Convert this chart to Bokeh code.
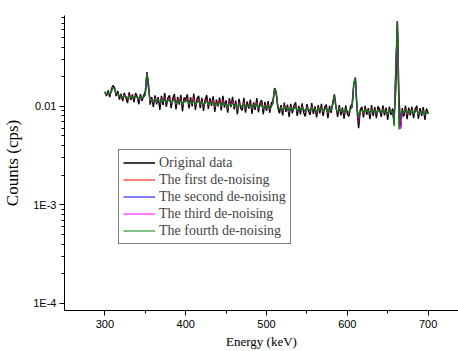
import numpy as np
from bokeh.plotting import figure
from bokeh.models import (Legend, LegendItem, FixedTicker, CustomJSTickFormatter,
                          Range1d)
from bokeh.embed import file_html
from bokeh.resources import INLINE

# Energy grid (keV): 300..700 in 2 keV steps
energy_start, energy_stop, energy_step = 300, 700, 2

# Count rates in units of 1e-4 cps
original = [
    141, 127, 145, 124, 149, 163, 154, 127, 143, 117,
    134, 113, 137, 122, 108, 139, 116, 132, 110, 136,
    126, 105, 133, 113, 129, 141, 223, 168, 104, 124,
    98, 129, 105, 124, 92, 128, 103, 136, 99, 122,
    129, 96, 121, 133, 93, 125, 104, 131, 89, 123,
    117, 132, 95, 124, 100, 135, 92, 119, 128, 96,
    122, 90, 116, 130, 94, 121, 101, 126, 88, 117,
    100, 123, 91, 128, 97, 115, 86, 121, 98, 125,
    93, 114, 83, 119, 96, 91, 122, 86, 112, 95,
    117, 84, 110, 92, 121, 87, 108, 116, 83, 111,
    90, 113, 86, 108, 114, 153, 140, 97, 85, 103,
    81, 109, 88, 104, 78, 106, 85, 102, 110, 80,
    101, 83, 107, 86, 79, 105, 89, 82, 108, 84,
    100, 77, 103, 85, 106, 80, 98, 104, 76, 101,
    86, 110, 132, 100, 78, 103, 81, 97, 75, 102,
    84, 79, 100, 106, 171, 196, 92, 60, 92, 99,
    77, 101, 82, 96, 74, 103, 80, 98, 76, 100,
    93, 78, 102, 81, 97, 73, 99, 82, 95, 78,
    150, 736, 118, 64, 96, 79, 102, 74, 97, 81,
    99, 76, 94, 101, 75, 96, 80, 98, 73, 95,
    85,
]

first_denoise = [
    137, 131, 139, 131, 143, 158, 151, 134, 136, 125,
    129, 121, 131, 126, 117, 131, 123, 127, 119, 129,
    123, 115, 127, 120, 125, 133, 219, 156, 113, 119,
    108, 122, 112, 118, 104, 120, 111, 125, 108, 116,
    120, 105, 115, 123, 104, 118, 111, 121, 100, 115,
    113, 122, 104, 116, 107, 123, 101, 113, 118, 104,
    114, 99, 110, 119, 102, 113, 107, 116, 97, 110,
    105, 114, 99, 117, 103, 108, 95, 112, 103, 114,
    99, 107, 92, 110, 102, 98, 112, 94, 105, 100,
    109, 93, 104, 98, 111, 94, 102, 108, 92, 104,
    96, 105, 93, 101, 110, 150, 136, 102, 92, 98,
    89, 102, 94, 98, 86, 100, 91, 96, 102, 88,
    96, 90, 100, 92, 87, 99, 94, 89, 101, 91,
    95, 85, 97, 91, 99, 87, 93, 98, 84, 95,
    91, 106, 130, 95, 86, 97, 88, 92, 83, 96,
    89, 86, 94, 99, 168, 193, 97, 70, 88, 93,
    84, 95, 88, 91, 82, 96, 86, 92, 83, 94,
    88, 85, 95, 87, 91, 81, 93, 87, 90, 72,
    220, 734, 90, 62, 91, 85, 95, 82, 91, 86,
    93, 83, 89, 94, 82, 90, 85, 92, 80, 89,
    84,
]

second_denoise = [
    137, 132, 138, 132, 142, 157, 151, 135, 134, 126,
    128, 122, 130, 126, 119, 129, 123, 126, 120, 128,
    123, 117, 126, 120, 124, 131, 218, 153, 113, 118,
    110, 120, 112, 117, 106, 119, 111, 122, 109, 115,
    118, 106, 114, 120, 105, 116, 110, 118, 102, 113,
    112, 119, 105, 114, 107, 119, 102, 111, 116, 104,
    112, 101, 109, 116, 103, 111, 106, 113, 99, 108,
    104, 111, 100, 113, 103, 107, 96, 110, 102, 111,
    99, 105, 94, 108, 101, 98, 109, 95, 104, 100,
    107, 94, 103, 98, 108, 95, 101, 106, 93, 102,
    96, 103, 94, 100, 109, 149, 135, 101, 92, 97,
    90, 100, 94, 97, 87, 99, 91, 95, 100, 89,
    95, 90, 99, 92, 88, 98, 94, 89, 99, 91,
    94, 86, 96, 91, 98, 88, 93, 97, 85, 94,
    91, 105, 129, 95, 87, 96, 89, 92, 84, 95,
    89, 86, 93, 97, 167, 192, 96, 74, 88, 92,
    85, 94, 88, 90, 83, 95, 86, 91, 84, 93,
    88, 85, 94, 87, 90, 82, 92, 87, 89, 68,
    250, 733, 75, 60, 88, 85, 94, 83, 90, 86,
    92, 83, 88, 93, 82, 89, 85, 91, 81, 88,
    84,
]

third_denoise = [
    136, 133, 137, 133, 141, 156, 150, 135, 133, 127,
    127, 123, 129, 126, 120, 128, 123, 125, 121, 127,
    123, 118, 125, 120, 123, 128, 217, 150, 113, 117,
    111, 119, 112, 116, 108, 118, 111, 120, 110, 114,
    117, 107, 113, 118, 106, 115, 110, 116, 104, 112,
    111, 117, 106, 113, 107, 117, 103, 110, 114, 104,
    111, 102, 108, 114, 103, 110, 106, 112, 100, 107,
    104, 110, 100, 111, 103, 106, 97, 108, 102, 109,
    100, 104, 95, 107, 101, 99, 108, 96, 103, 100,
    106, 95, 102, 99, 107, 95, 101, 105, 94, 101,
    97, 102, 94, 99, 107, 147, 134, 101, 93, 97,
    90, 99, 94, 96, 88, 98, 92, 95, 99, 89,
    95, 91, 98, 93, 88, 97, 94, 90, 98, 92,
    94, 87, 96, 91, 97, 88, 93, 96, 86, 94,
    91, 104, 128, 95, 87, 95, 89, 92, 85, 94,
    89, 87, 93, 97, 166, 191, 96, 76, 88, 92,
    85, 93, 88, 90, 84, 94, 87, 91, 85, 92,
    88, 86, 93, 87, 90, 83, 92, 87, 89, 65,
    270, 732, 66, 59, 86, 86, 93, 84, 90, 86,
    91, 84, 88, 92, 83, 89, 85, 90, 82, 88,
    84,
]

fourth_denoise = [
    136, 133, 137, 134, 140, 155, 150, 136, 132, 128,
    127, 124, 128, 126, 121, 127, 124, 125, 122, 126,
    123, 120, 124, 121, 123, 130, 216, 148, 113, 117,
    112, 118, 113, 116, 109, 117, 112, 119, 110, 114,
    116, 108, 113, 117, 107, 114, 110, 115, 105, 112,
    111, 116, 106, 112, 108, 115, 104, 110, 113, 105,
    110, 103, 108, 113, 104, 109, 106, 111, 101, 107,
    104, 109, 101, 110, 103, 106, 98, 107, 102, 108,
    100, 104, 96, 106, 101, 99, 107, 97, 103, 100,
    105, 96, 102, 99, 106, 96, 101, 104, 95, 101,
    97, 102, 95, 99, 108, 148, 134, 100, 93, 97,
    91, 99, 94, 96, 89, 98, 92, 95, 99, 90,
    95, 91, 98, 93, 89, 97, 94, 90, 98, 92,
    94, 88, 96, 91, 97, 89, 93, 96, 87, 94,
    91, 104, 128, 95, 88, 95, 90, 92, 86, 94,
    89, 87, 93, 98, 168, 190, 96, 78, 88, 92,
    86, 93, 88, 90, 84, 94, 87, 91, 85, 92,
    88, 86, 93, 87, 90, 83, 92, 87, 89, 63,
    280, 731, 58, 84, 90, 86, 93, 84, 90, 86,
    91, 84, 88, 92, 83, 89, 85, 90, 82, 88,
    84,
]

labels = ["Original data", "The first de-noising", "The second de-noising",
          "The third de-noising", "The fourth de-noising"]
colors = ["black", "#FF0000", "#0000FF", "#FF00FF", "#008000"]
widths = [1.4, 1.1, 1.0, 1.0, 1.2]
series = [original, first_denoise, second_denoise, third_denoise, fourth_denoise]

x_major = [300, 400, 500, 600, 700]
x_minor = [350, 450, 550, 650]
y_major = [1e-4, 1e-3, 1e-2]
y_minor = [m * d for d in (1e-4, 1e-3, 1e-2) for m in range(2, 10)]

energy = np.arange(energy_start, energy_stop + 1, energy_step)

p = figure(width=458, height=351, y_axis_type="log",
           output_backend="svg", toolbar_location=None,
           x_range=Range1d(250, 737.6), y_range=Range1d(8.45e-5, 0.0836),
           min_border_left=64, min_border_right=0, min_border_top=15,
           min_border_bottom=38)
p.outline_line_color = None
p.grid.visible = False
p.background_fill_color = "white"

items = []
for lab, col, lw, vals in zip(labels, colors, widths, series):
    y = np.array(vals, dtype=float) * 1e-4
    r = p.line(energy, y, line_color=col, line_width=lw)
    dot = p.scatter(x=[], y=[], size=3, color=col)
    items.append(LegendItem(label=lab, renderers=[r, dot]))

legend = Legend(items=items, location=(54, 66),
                label_text_font="Liberation Serif", label_text_font_size="14px",
                glyph_width=32, glyph_height=17, label_height=17, spacing=0,
                padding=4, margin=0, label_standoff=4,
                border_line_color="black", border_line_width=1,
                background_fill_color="white", background_fill_alpha=1)
p.add_layout(legend)

for ax in (p.xaxis[0], p.yaxis[0]):
    ax.axis_line_color = "black"
    ax.major_tick_line_color = "black"
    ax.minor_tick_line_color = "black"
    ax.major_tick_in = 0
    ax.minor_tick_in = 0
    ax.major_tick_out = 5
    ax.minor_tick_out = 3
    ax.major_label_text_font = "Liberation Sans"
    ax.major_label_text_font_size = "11px"
    ax.major_label_text_color = "black"
    ax.axis_label_text_font = "Liberation Serif"
    ax.axis_label_text_font_style = "normal"
    ax.axis_label_text_color = "black"

p.xaxis[0].ticker = FixedTicker(ticks=x_major, minor_ticks=x_minor)
p.xaxis[0].axis_label = "Energy (keV)"
p.xaxis[0].axis_label_text_font_size = "13px"
p.xaxis[0].major_label_standoff = 4
p.xaxis[0].axis_label_standoff = 3

p.yaxis[0].ticker = FixedTicker(ticks=y_major, minor_ticks=y_minor)
p.yaxis[0].formatter = CustomJSTickFormatter(
    code="return tick > 0.005 ? '0.01' : (tick > 0.0005 ? '1E-3' : '1E-4');")
p.yaxis[0].axis_label = "Counts (cps)"
p.yaxis[0].axis_label_text_font_size = "17px"
p.yaxis[0].major_label_standoff = 3
p.yaxis[0].axis_label_standoff = 8

open("out.html", "w").write(file_html(p, INLINE))
